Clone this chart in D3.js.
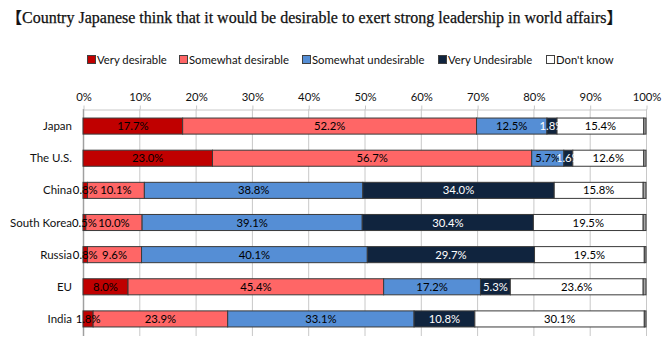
<!DOCTYPE html>
<html>
<head>
<meta charset="utf-8">
<script src="https://cdn.jsdelivr.net/npm/d3@7"></script>
<style>
  body { margin: 0; background: #fff; }
  svg text { font-family: Lato, "Open Sans", sans-serif; }
</style>
</head>
<body>
<script>
// countries, top to bottom
var countries = ['Japan', 'The U.S.', 'China', 'South Korea', 'Russia', 'EU', 'India'];
// answer series, in stacking order
var seriesNames = ['Very desirable', 'Somewhat desirable', 'Somewhat undesirable', 'Very Undesirable', "Don't know", 'No answer'];
var seriesColors = ['#c00000', '#ff6666', '#558ed5', '#10243e', '#ffffff', '#a6a6a6'];
var labelColors = ['#000', '#000', '#000', '#fff', '#000', '#000'];

// values in percent, one array per series
var veryDesirable = [17.7, 23.0, 0.8, 0.5, 0.8, 8.0, 1.8];
var somewhatDesirable = [52.2, 56.7, 10.1, 10.0, 9.6, 45.4, 23.9];
var somewhatUndesirable = [12.5, 5.7, 38.8, 39.1, 40.1, 17.2, 33.1];
var veryUndesirable = [1.8, 1.6, 34.0, 30.4, 29.7, 5.3, 10.8];
var dontKnow = [15.4, 12.6, 15.8, 19.5, 19.5, 23.6, 30.1];
var noAnswer = [0.4, 0.4, 0.5, 0.5, 0.3, 0.5, 0.3];

var xTicks = [0, 10, 20, 30, 40, 50, 60, 70, 80, 90, 100];
var titleText = '【Country Japanese think that it would be desirable to exert strong leadership in world affairs】';

var svgWidth = 670;
var svgHeight = 348;

var svg = d3.select('body').append('svg')
    .attr('width', svgWidth)
    .attr('height', svgHeight);

// build table for the stack
var allSeries = [veryDesirable, somewhatDesirable, somewhatUndesirable, veryUndesirable, dontKnow, noAnswer];
var table = countries.map(function(c, i) {
    var row = { country: c };
    seriesNames.forEach(function(s, j) { row[s] = allSeries[j][i]; });
    return row;
});
var stacked = d3.stack().keys(seriesNames)(table);

var xScale = d3.scaleLinear().domain([0, 100]).range([83, 646]);
var yScale = d3.scaleBand().domain(countries).range([110, 335])
    .paddingInner(0.5).paddingOuter(0.25);

// title
svg.append('text')
    .attr('x', 6)
    .attr('y', 23)
    .attr('font-size', 16)
    .style('font-family', '"Liberation Serif", "Noto Sans CJK JP", serif')
    .attr('fill', '#111')
    .attr('stroke', '#111')
    .attr('stroke-width', 0.25)
    .text(titleText);

// legend
var legendX = [87, 179, 302, 438, 546];
var legend = svg.append('g');
seriesNames.slice(0, 5).forEach(function(s, i) {
    var g = legend.append('g').attr('transform', 'translate(' + legendX[i] + ',60)');
    g.append('rect')
        .attr('x', 0.5).attr('y', -4.5)
        .attr('width', 8).attr('height', 8)
        .attr('fill', seriesColors[i])
        .attr('stroke', '#404040');
    g.append('text')
        .attr('x', 10)
        .attr('y', 4)
        .attr('font-size', 11.3)
        .attr('fill', '#111')
        .text(s);
});

// gridlines
svg.append('g').selectAll('line')
    .data(xTicks)
    .enter()
    .append('line')
    .attr('x1', function(d) { return xScale(d) + 0.5; })
    .attr('x2', function(d) { return xScale(d) + 0.5; })
    .attr('y1', 109)
    .attr('y2', 336)
    .attr('stroke', function(d) { return d === 0 ? '#a0a0a0' : '#c8c8c8'; })
    .attr('stroke-width', function(d) { return d === 0 ? 1.5 : 1; });

// top axis
var xAxis = d3.axisTop(xScale)
    .tickValues(xTicks)
    .tickSize(4)
    .tickSizeOuter(0)
    .tickFormat(function(d) { return d + '%'; });

var axisG = svg.append('g')
    .attr('transform', 'translate(0.5,109.5)')
    .call(xAxis);
axisG.select('.domain').attr('stroke', '#c8c8c8');
axisG.selectAll('.tick line').attr('stroke', '#c8c8c8');
axisG.selectAll('.tick text')
    .attr('y', -9)
    .attr('font-size', 11.3)
    .attr('fill', '#111')
    .style('font-family', 'Lato, "Open Sans", sans-serif');

// category labels
svg.append('g').selectAll('text')
    .data(countries)
    .enter()
    .append('text')
    .attr('x', 72)
    .attr('y', function(d) { return yScale(d) + yScale.bandwidth() / 2 + 4; })
    .attr('text-anchor', 'end')
    .attr('font-size', 11.5)
    .attr('fill', '#111')
    .text(function(d) { return d; });

// bars
var layers = svg.append('g').selectAll('g')
    .data(stacked)
    .enter()
    .append('g')
    .attr('fill', function(d, i) { return seriesColors[i]; });

layers.selectAll('rect')
    .data(function(d) { return d; })
    .enter()
    .append('rect')
    .attr('x', function(d) { return xScale(d[0]); })
    .attr('y', function(d) { return yScale(d.data.country); })
    .attr('width', function(d) { return xScale(d[1]) - xScale(d[0]); })
    .attr('height', yScale.bandwidth())
    .attr('stroke', '#3a3a3a')
    .attr('stroke-width', 1);

// value labels, drawn series by series so later bars cover them like in the original
stacked.slice(0, 5).forEach(function(layer, i) {
    svg.append('g').selectAll('text')
        .data(layer)
        .enter()
        .append('text')
        .attr('x', function(d) { return (xScale(d[0]) + xScale(d[1])) / 2; })
        .attr('y', function(d) { return yScale(d.data.country) + yScale.bandwidth() / 2 + 4; })
        .attr('text-anchor', 'middle')
        .attr('font-size', 11.3)
        .attr('fill', labelColors[i])
        .text(function(d) { return (d[1] - d[0]).toFixed(1) + '%'; });
});
</script>
</body>
</html>
